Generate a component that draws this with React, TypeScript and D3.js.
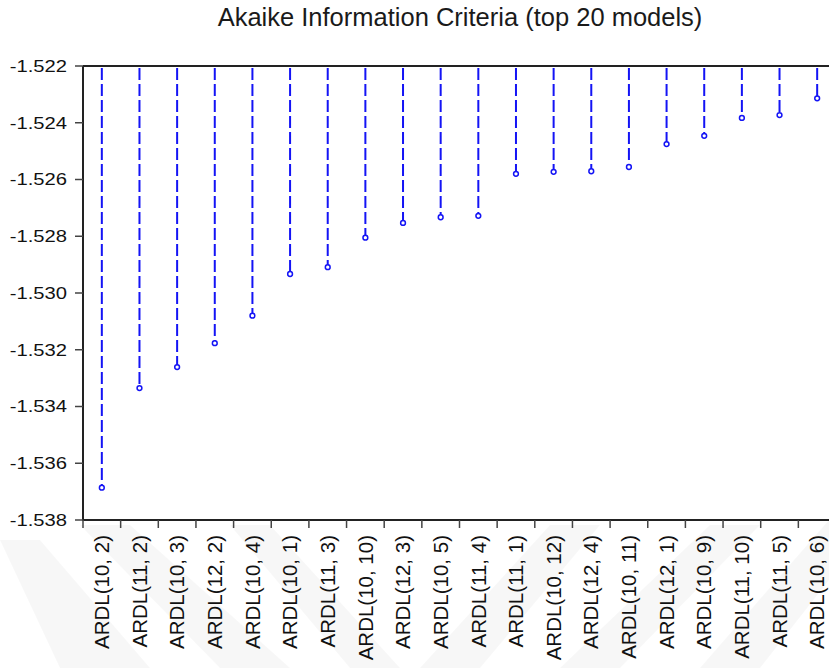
import React from "react";
import * as d3 from "d3";

// Top 20 ARDL specifications ranked by Akaike Information Criterion
const models: string[] = [
  "ARDL(10, 2)", "ARDL(11, 2)", "ARDL(10, 3)", "ARDL(12, 2)", "ARDL(10, 4)",
  "ARDL(10, 1)", "ARDL(11, 3)", "ARDL(10, 10)", "ARDL(12, 3)", "ARDL(10, 5)",
  "ARDL(11, 4)", "ARDL(11, 1)", "ARDL(10, 12)", "ARDL(12, 4)", "ARDL(10, 11)",
  "ARDL(12, 1)", "ARDL(10, 9)", "ARDL(11, 10)", "ARDL(11, 5)", "ARDL(10, 6)",
];

const aicValues: number[] = [
  -1.53686, -1.53335, -1.53261, -1.53177, -1.5308,
  -1.52933, -1.52909, -1.52805, -1.52753, -1.52733,
  -1.52728, -1.5258, -1.52573, -1.52571, -1.52556,
  -1.52475, -1.52446, -1.52383, -1.52373, -1.52314,
];

const yTicks: number[] = [
  -1.538, -1.536, -1.534, -1.532, -1.53, -1.528, -1.526, -1.524, -1.522,
];

const chartTitle = "Akaike Information Criteria (top 20 models)";

const W = 829;
const H = 668;
const plot = { left: 83, top: 66, bottom: 520, right: 836 };
const FONT = "'Liberation Sans', Arial, Helvetica, sans-serif";
const BLUE = "#1414f5";

// faint diagonal watermark bands behind the axis labels
const watermark: [number, number][][] = [
  [[0, 540], [40, 540], [150, 668], [60, 668]],
  [[80, 525], [130, 525], [290, 668], [220, 668]],
  [[230, 525], [270, 525], [400, 668], [350, 668]],
  [[420, 668], [480, 668], [600, 525], [550, 525]],
  [[560, 668], [620, 668], [760, 525], [710, 525]],
  [[700, 668], [760, 668], [829, 580], [829, 520]],
];

export default function App() {
  const x = d3
    .scaleBand<string>()
    .domain(models)
    .range([plot.left, plot.right])
    .padding(0);
  const y = d3
    .scaleLinear()
    .domain([-1.538, -1.522])
    .range([plot.bottom, plot.top]);

  const fmt = (v: number) => d3.format(".3f")(v).replace("\u2212", "-");
  const bw = x.bandwidth();
  const boundaries = d3.range(models.length + 1).map((i) => plot.left + i * bw);

  return (
    <svg
      width={W}
      height={H}
      style={{ position: "absolute", left: 0, top: 0, background: "#fff" }}
      fontFamily={FONT}
    >
      <rect width={W} height={H} fill="#fff" />
      {watermark.map((pts, i) => (
        <polygon
          key={i}
          points={pts.map((p) => p.join(",")).join(" ")}
          fill="#000"
          opacity={0.03}
        />
      ))}

      <text
        x={460}
        y={26}
        textAnchor="middle"
        fontSize={25.5}
        fill="#1a1a1a"
      >
        {chartTitle}
      </text>

      {/* stems and markers */}
      {models.map((m, i) => {
        const cx = (x(m) as number) + bw / 2;
        const cy = y(aicValues[i]);
        return (
          <g key={m}>
            <line
              x1={cx}
              x2={cx}
              y1={plot.top + 2}
              y2={cy}
              stroke={BLUE}
              strokeWidth={2}
              strokeDasharray="12 4"
            />
            <circle
              cx={cx}
              cy={cy}
              r={2.4}
              fill="#fff"
              stroke={BLUE}
              strokeWidth={1.5}
            />
          </g>
        );
      })}

      {/* frame lines */}
      <line x1={plot.left} x2={W} y1={plot.top} y2={plot.top} stroke="#222" strokeWidth={2} />
      <line x1={plot.left} x2={W} y1={plot.bottom} y2={plot.bottom} stroke="#222" strokeWidth={2} />
      <line x1={plot.left} x2={plot.left} y1={plot.top} y2={plot.bottom + 1} stroke="#222" strokeWidth={2} />

      {/* y axis */}
      {yTicks.map((t) => (
        <g key={t}>
          <line
            x1={plot.left - 8}
            x2={plot.left}
            y1={y(t)}
            y2={y(t)}
            stroke="#444"
            strokeWidth={1.5}
          />
          <text
            transform={`translate(${plot.left - 16},${y(t)}) scale(1.24,1)`}
            textAnchor="end"
            dy="0.36em"
            fontSize={16.3}
            fill="#111"
          >
            {fmt(t)}
          </text>
        </g>
      ))}

      {/* x axis */}
      {boundaries.map((bx, i) => (
        <line
          key={i}
          x1={bx}
          x2={bx}
          y1={plot.bottom}
          y2={plot.bottom + 8}
          stroke="#444"
          strokeWidth={1.5}
        />
      ))}
      {models.map((m) => {
        const cx = (x(m) as number) + bw / 2;
        return (
          <text
            key={m}
            transform={`translate(${cx},${plot.bottom + 15}) rotate(-90)`}
            textAnchor="end"
            dy="0.35em"
            fontSize={20.5}
            fill="#111"
          >
            {m}
          </text>
        );
      })}
    </svg>
  );
}
